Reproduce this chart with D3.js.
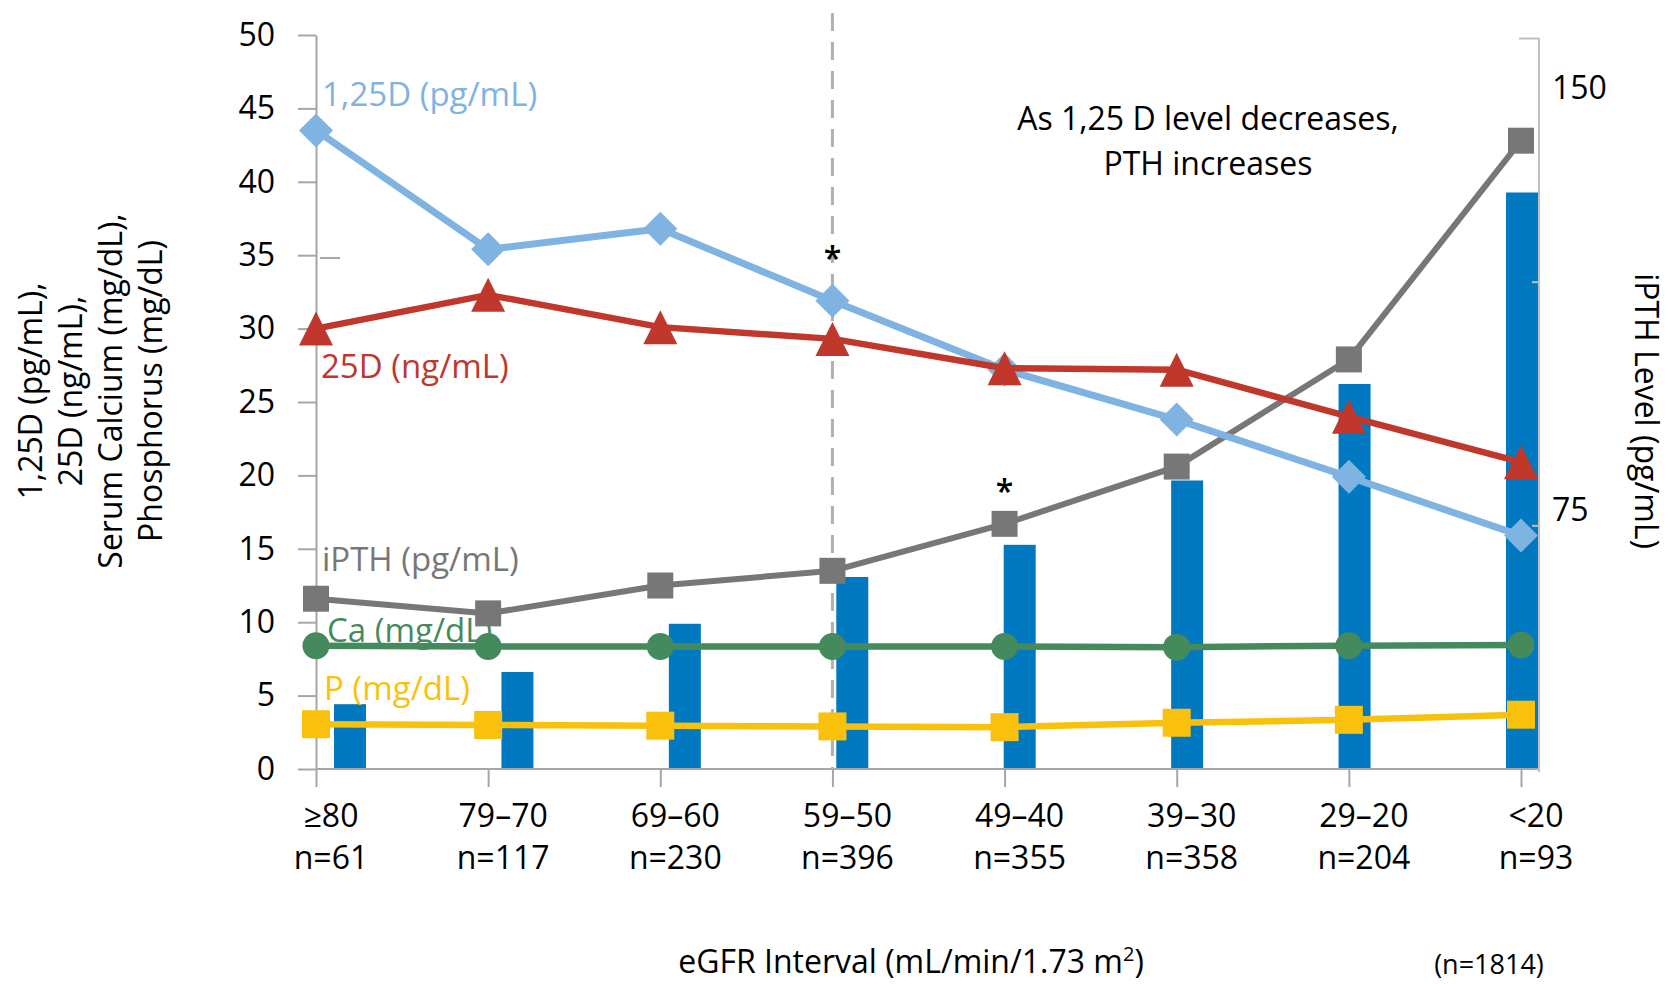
<!DOCTYPE html>
<html>
<head>
<meta charset="utf-8">
<script src="https://cdn.jsdelivr.net/npm/d3@7"></script>
<style>
  html, body { margin: 0; padding: 0; background: #fff; }
  svg { display: block; font-family: "Open Sans", sans-serif; }
</style>
</head>
<body>
<svg id="chart" width="1678" height="984"></svg>
<script>
// eGFR groups and their sizes
const categories = ["≥80", "79–70", "69–60", "59–50", "49–40", "39–30", "29–20", "<20"];
const groupSizes = ["n=61", "n=117", "n=230", "n=396", "n=355", "n=358", "n=204", "n=93"];

// Mean levels per eGFR group (left axis)
const vitD125 = [43.5, 35.4, 36.8, 31.9, 27.2, 23.8, 19.9, 15.9];   // 1,25D (pg/mL)
const vitD25 = [30.0, 32.3, 30.1, 29.3, 27.3, 27.2, 24.0, 20.9];    // 25D (ng/mL)
const iPTH = [11.6, 10.6, 12.5, 13.5, 16.7, 20.6, 27.9, 42.8];      // iPTH (pg/mL)
const calcium = [8.4, 8.35, 8.35, 8.35, 8.35, 8.3, 8.4, 8.45];      // Ca (mg/dL)
const phosphorus = [3.05, 3.0, 2.95, 2.9, 2.85, 3.15, 3.35, 3.7];   // P (mg/dL)

// iPTH level bars (right axis)
const iPTHLevel = [13.3, 19.9, 29.8, 39.4, 46.0, 59.2, 79.0, 118.3];

// Axis ticks
const leftTicks = d3.range(0, 51, 5);
const rightTicks = [50, 100, 150];
const rightNotes = ["150", "75"];
const starredGroups = ["59–50", "49–40"];

const svg = d3.select("#chart");
const AXIS = "#a6a6a6";
const FONT = 32;

const plotLeft = 316, plotRight = 1539, plotBottom = 769;

const y = d3.scaleLinear().domain([0, 50]).range([plotBottom, 35]);
const yR = d3.scaleLinear().domain([0, 150]).range([plotBottom, 38]);
const x = d3.scalePoint().domain(categories).range([plotLeft, 1521]);
const xBar = d3.scalePoint().domain(categories).range([350, 1522]);
const barWidth = 32;

// ---- bars ----
svg.append("g").selectAll("rect")
  .data(categories.map((c, i) => ({ c, v: iPTHLevel[i] })))
  .join("rect")
  .attr("x", d => xBar(d.c) - barWidth / 2)
  .attr("width", barWidth)
  .attr("y", d => yR(d.v))
  .attr("height", d => yR(0) - yR(d.v))
  .attr("fill", "#0179c1");

// ---- left axis ----
const gL = svg.append("g")
  .attr("transform", `translate(${plotLeft},0)`)
  .call(d3.axisLeft(y).tickValues(leftTicks).tickSize(18).tickSizeOuter(0).tickPadding(23));
gL.attr("font-family", null).attr("font-size", null);
gL.select(".domain").attr("stroke", AXIS).attr("stroke-width", 2);
gL.selectAll(".tick line").attr("stroke", AXIS).attr("stroke-width", 2);
gL.selectAll(".tick text").attr("font-size", FONT).attr("fill", "#000");

// short mark inside the plot near 35
svg.append("line").attr("x1", 320).attr("x2", 340)
  .attr("y1", 258).attr("y2", 258).attr("stroke", AXIS).attr("stroke-width", 2);

// ---- bottom axis ----
const gB = svg.append("g")
  .attr("transform", `translate(0,${plotBottom})`)
  .call(d3.axisBottom(x).tickSize(18).tickSizeOuter(0).tickFormat(""));
gB.select(".domain").remove();
gB.selectAll(".tick line").attr("stroke", AXIS).attr("stroke-width", 2);
svg.append("line")
  .attr("x1", plotLeft).attr("x2", plotRight)
  .attr("y1", plotBottom).attr("y2", plotBottom)
  .attr("stroke", AXIS).attr("stroke-width", 2);

// category labels, two lines each
const catX = c => x(c) + 15;
const catLabels = svg.append("g").attr("font-size", FONT).attr("text-anchor", "middle").attr("fill", "#000");
catLabels.selectAll("text.cat").data(categories).join("text")
  .attr("class", "cat").attr("x", d => catX(d)).attr("y", 827).text(d => d);
catLabels.selectAll("text.n").data(categories.map((c, i) => ({ c, n: groupSizes[i] }))).join("text")
  .attr("class", "n").attr("x", d => catX(d.c)).attr("y", 869).text(d => d.n);

// ---- right axis ----
const gR = svg.append("g")
  .attr("transform", `translate(${plotRight},0)`)
  .call(d3.axisLeft(yR).tickValues(rightTicks).tickSize(7).tickSizeOuter(0).tickFormat(""));
gR.select(".domain").remove();
gR.selectAll(".tick line").attr("stroke", "#bfbfbf").attr("stroke-width", 2)
  .filter(d => d === 150).attr("x2", -20);
svg.append("line")
  .attr("x1", plotRight).attr("x2", plotRight)
  .attr("y1", yR(150)).attr("y2", plotBottom + 3)
  .attr("stroke", "#bfbfbf").attr("stroke-width", 2);
svg.append("text").attr("x", 1552).attr("y", 99).attr("font-size", FONT).text(rightNotes[0]);
svg.append("text").attr("x", 1552).attr("y", 521).attr("font-size", FONT).text(rightNotes[1]);

// ---- dashed reference line at 59–50 ----
svg.append("line")
  .attr("x1", x("59–50")).attr("x2", x("59–50"))
  .attr("y1", 13).attr("y2", plotBottom)
  .attr("stroke", "#b0b0b0").attr("stroke-width", 3)
  .attr("stroke-dasharray", "18 11");

// ---- axis titles ----
const leftTitle = ["1,25D (pg/mL),", "25D (ng/mL),", "Serum Calcium (mg/dL),", "Phosphorus (mg/dL)"];
svg.append("g").selectAll("text").data(leftTitle).join("text")
  .attr("transform", (d, i) => `translate(${29 + i * 40},391) rotate(-90)`)
  .attr("text-anchor", "middle").attr("dominant-baseline", "central")
  .attr("font-size", FONT).attr("fill", "#000").text(d => d);

svg.append("text")
  .attr("transform", "translate(1647,411) rotate(90)")
  .attr("text-anchor", "middle").attr("dominant-baseline", "central")
  .attr("font-size", FONT).attr("fill", "#000").text("iPTH Level (pg/mL)");

const xt = svg.append("text").attr("x", 911).attr("y", 973)
  .attr("text-anchor", "middle").attr("font-size", FONT).attr("fill", "#000");
xt.append("tspan").text("eGFR Interval (mL/min/1.73 m");
xt.append("tspan").attr("font-size", 20).attr("dy", -12).text("2");
xt.append("tspan").attr("dy", 12).text(")");

svg.append("text").attr("x", 1489).attr("y", 974).attr("text-anchor", "middle")
  .attr("font-size", 27).attr("fill", "#000").text("(n=1814)");

// ---- annotation ----
svg.append("text").attr("x", 1208).attr("y", 130).attr("text-anchor", "middle")
  .attr("font-size", FONT).attr("fill", "#000").text("As 1,25 D level decreases,");
svg.append("text").attr("x", 1208).attr("y", 175).attr("text-anchor", "middle")
  .attr("font-size", FONT).attr("fill", "#000").text("PTH increases");

// ---- series ----
const series = [
  { name: "Ca (mg/dL)", values: calcium, color: "#458a5c", width: 6.5, marker: "circle", size: 27, label: [327, 642] },
  { name: "P (mg/dL)", values: phosphorus, color: "#fac10c", width: 6.5, marker: "square", size: 28, label: [324, 700] },
  { name: "iPTH (pg/mL)", values: iPTH, color: "#777777", width: 6, marker: "square", size: 26, label: [322, 571] },
  { name: "1,25D (pg/mL)", values: vitD125, color: "#7fb3e1", width: 7, marker: "diamond", size: 34, label: [322, 106] },
  { name: "25D (ng/mL)", values: vitD25, color: "#c0372c", width: 6.5, marker: "triangle", size: 34, label: [321, 378] }
];

// series labels sit beneath the lines
svg.append("g").selectAll("text").data(series).join("text")
  .attr("x", d => d.label[0]).attr("y", d => d.label[1])
  .attr("font-size", 33).attr("fill", d => d.color).text(d => d.name);

const markerPath = (type, s) => {
  const h = s / 2;
  if (type === "diamond") return `M0,${-h}L${h},0L0,${h}L${-h},0Z`;
  if (type === "triangle") return `M0,${-h}L${h},${h}L${-h},${h}Z`;
  if (type === "square") return `M${-h},${-h}H${h}V${h}H${-h}Z`;
  return null;
};

const line = d3.line().x(d => x(d.c)).y(d => y(d.v));

series.forEach(s => {
  const pts = categories.map((c, i) => ({ c, v: s.values[i] }));
  const g = svg.append("g");
  g.append("path").datum(pts).attr("d", line)
    .attr("fill", "none").attr("stroke", s.color).attr("stroke-width", s.width)
    .attr("stroke-linejoin", "round");
  if (s.marker === "circle") {
    g.selectAll("circle").data(pts).join("circle")
      .attr("cx", d => x(d.c)).attr("cy", d => y(d.v)).attr("r", s.size / 2)
      .attr("fill", s.color);
  } else {
    g.selectAll("path.m").data(pts).join("path").attr("class", "m")
      .attr("transform", d => `translate(${x(d.c)},${y(d.v)})`)
      .attr("d", markerPath(s.marker, s.size))
      .attr("fill", s.color);
  }
});

// significance marks
svg.append("g").selectAll("text").data(starredGroups).join("text")
  .attr("x", d => x(d)).attr("y", (d, i) => i === 0 ? 270 : 503)
  .attr("text-anchor", "middle").attr("font-size", 32).attr("font-weight", 600)
  .attr("fill", "#000").text("*");
</script>
</body>
</html>
